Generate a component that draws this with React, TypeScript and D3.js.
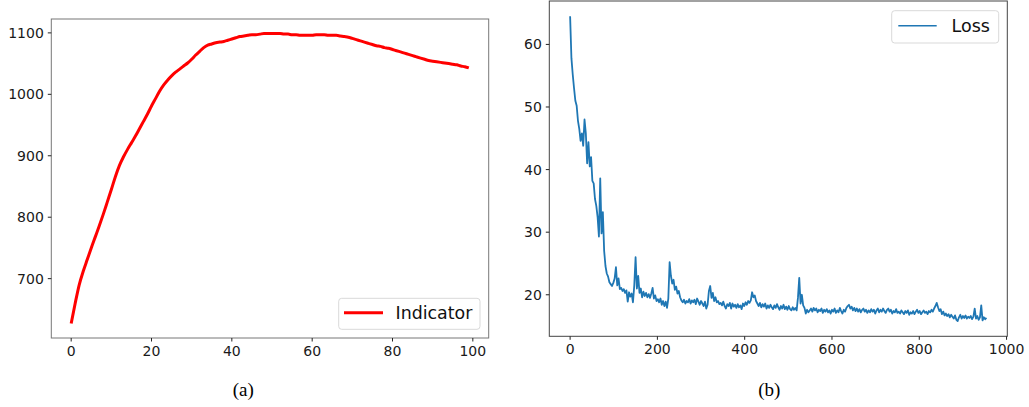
import React from "react";
import * as d3 from "d3";

// ---- Data ----
const indicator: number[] = [
  627, 660, 690, 712, 731, 750, 768, 786, 805, 825,
  845, 866, 884, 898, 910, 921, 932, 944, 956, 968,
  981, 993, 1005, 1015, 1023, 1030, 1036, 1041, 1046, 1051,
  1057, 1064, 1070, 1076, 1080, 1082, 1084, 1085, 1086, 1088,
  1090, 1092, 1094, 1095, 1096, 1097, 1097, 1098, 1099, 1099,
  1099, 1099, 1099, 1098, 1098, 1097, 1097, 1096, 1096, 1096,
  1096, 1097, 1097, 1097, 1096, 1096, 1096, 1095, 1094, 1093,
  1091, 1089, 1087, 1085, 1083, 1081, 1079, 1078, 1076, 1075,
  1073, 1071, 1069, 1067, 1065, 1063, 1061, 1059, 1057, 1055,
  1054, 1053, 1052, 1051, 1050, 1049, 1048, 1046, 1045, 1043,
];

// Loss sampled every 3 steps (step index = i * lossStep)
const lossStep = 3;
const loss: number[] = [
  64.5, 57.8, 55.2, 53.0, 51.0, 50.2, 47.8, 46.5, 44.6, 45.8,
  43.8, 48.0, 45.8, 41.0, 44.4, 40.5, 42.0, 38.2, 37.8, 35.3,
  34.2, 32.4, 29.3, 38.6, 29.8, 33.2, 27.0, 24.6, 23.4, 22.9,
  22.0, 21.7, 21.4, 21.9, 22.6, 24.4, 21.5, 22.6, 20.9,
  21.1, 20.6, 20.9, 20.3, 20.7, 18.9, 20.4, 19.7, 20.2, 18.8,
  21.5, 26.0, 21.0, 23.0, 20.3, 21.0, 19.6, 20.5, 19.8, 20.3,
  19.6, 20.1, 19.5, 20.2, 21.1, 19.4, 19.9, 19.0, 19.3, 18.8,
  19.4, 18.4, 19.0, 18.2, 18.9, 17.9, 19.4,
  25.2, 23.0, 21.8, 22.4, 20.8, 21.3, 20.2, 20.6, 19.6, 19.1,
  18.8, 19.2, 18.6, 19.0, 18.8, 19.3, 18.6, 19.1, 18.8, 19.2,
  18.5, 19.4, 18.9, 18.4, 19.0, 18.6, 18.2, 18.9, 17.8, 18.4,
  20.6, 21.4, 19.5, 20.3, 19.0, 19.6, 18.8, 19.0, 18.5, 18.7,
  18.3, 18.9, 18.2, 17.8, 18.5, 18.2, 18.7, 17.8, 18.6, 18.1,
  18.4, 17.9, 18.5, 18.0, 18.3, 17.7, 18.6, 18.2, 18.8, 18.4,
  19.0, 18.7, 19.1, 20.4, 19.6, 19.9, 19.0, 18.6, 18.2, 18.7,
  18.0, 18.5, 18.1, 18.6, 17.8, 18.3, 17.9, 18.4, 18.0, 17.7,
  18.3, 17.9, 18.5, 18.0, 17.6, 18.2, 17.8, 18.4, 17.7, 18.1,
  17.6, 18.2, 17.7, 17.5, 18.0, 17.6, 17.9, 17.5, 19.5, 22.7,
  18.6, 20.0, 18.3, 17.9, 17.0, 17.6, 17.2, 17.5, 17.8, 17.3,
  17.9, 17.5, 17.8, 17.2, 17.6, 17.4, 17.8, 17.1, 17.6, 17.3,
  17.7, 17.2, 17.5, 17.0, 17.6, 17.3, 17.8, 17.1, 17.5, 17.2,
  17.9, 17.4, 17.0, 17.6, 17.3, 17.9, 18.2, 18.4, 17.8, 18.1,
  17.5, 17.9, 17.4, 17.8, 17.3, 17.7, 17.2, 17.6, 17.8, 17.3,
  17.6, 17.1, 17.5, 17.2, 17.7, 17.3, 17.6, 17.0, 17.5, 17.8,
  17.2, 17.6, 17.3, 17.8, 17.4, 17.1, 17.6, 17.8, 17.3, 17.6,
  17.0, 17.4, 17.2, 17.7, 17.1, 17.3, 17.0, 17.5, 17.2, 16.9,
  17.4, 17.1, 17.5, 16.8, 17.2, 17.0, 17.4, 16.9, 17.3, 17.6,
  17.1, 17.4, 16.9, 17.2, 17.5, 17.1, 17.3, 16.9, 17.4, 17.2,
  17.6, 17.3, 17.8, 18.2, 18.7, 18.0, 17.4, 17.7, 16.9, 17.3,
  16.7, 17.0, 16.6, 16.9, 16.4, 16.8, 16.5, 16.2, 16.7, 16.0,
  15.8, 16.4, 16.8, 16.2, 16.6, 16.3, 16.7, 16.2, 16.5, 16.3,
  16.6, 16.1, 16.5, 17.8, 16.2, 16.6, 16.0, 16.4, 18.3, 15.9,
  16.4, 16.1, 16.3,
];

const leftXTicks = [0, 20, 40, 60, 80, 100];
const leftYTicks = [700, 800, 900, 1000, 1100];
const rightXTicks = [0, 200, 400, 600, 800, 1000];
const rightYTicks = [20, 30, 40, 50, 60];

const TICK_FONT = "DejaVu Sans, sans-serif";

function padDomain(lo: number, hi: number): [number, number] {
  const m = (hi - lo) * 0.05;
  return [lo - m, hi + m];
}

type PanelProps = {
  x0: number; x1: number; y0: number; y1: number;
  xs: d3.ScaleLinear<number, number>;
  ys: d3.ScaleLinear<number, number>;
  xTicks: number[]; yTicks: number[];
  spine: string;
};

function Axes({ x0, x1, y0, y1, xs, ys, xTicks, yTicks, spine }: PanelProps) {
  return (
    <g>
      <rect x={x0} y={y0} width={x1 - x0} height={y1 - y0} fill="none" stroke={spine} strokeWidth={1} />
      {xTicks.map((t) => (
        <g key={"x" + t}>
          <line x1={xs(t)} x2={xs(t)} y1={y1} y2={y1 + 3.5} stroke="#222" strokeWidth={1} />
          <text x={xs(t)} y={y1 + 17.5} textAnchor="middle" fontFamily={TICK_FONT} fontSize={14} fill="#1a1a1a">
            {t}
          </text>
        </g>
      ))}
      {yTicks.map((t) => (
        <g key={"y" + t}>
          <line x1={x0 - 3.5} x2={x0} y1={ys(t)} y2={ys(t)} stroke="#222" strokeWidth={1} />
          <text x={x0 - 7.5} y={ys(t) + 5} textAnchor="end" fontFamily={TICK_FONT} fontSize={14} fill="#1a1a1a">
            {t}
          </text>
        </g>
      ))}
    </g>
  );
}

export default function App() {
  // Left panel
  const L = { x0: 51.3, x1: 488.7, y0: 19, y1: 338 };
  const lxs = d3.scaleLinear().domain(padDomain(0, indicator.length - 1)).range([L.x0, L.x1]);
  const lys = d3
    .scaleLinear()
    .domain(padDomain(d3.min(indicator)!, d3.max(indicator)!))
    .range([L.y1, L.y0]);
  const lLine = d3
    .line<number>()
    .x((_, i) => lxs(i))
    .y((d) => lys(d))
    .curve(d3.curveMonotoneX);

  // Right panel
  const R = { x0: 549.3, x1: 1007.3, y0: 1, y1: 336.3 };
  const lastStep = (loss.length - 1) * lossStep;
  const rxs = d3.scaleLinear().domain(padDomain(0, lastStep)).range([R.x0, R.x1]);
  const rys = d3
    .scaleLinear()
    .domain(padDomain(d3.min(loss)!, d3.max(loss)!))
    .range([R.y1, R.y0]);
  const rLine = d3
    .line<number>()
    .x((_, i) => rxs(i * lossStep))
    .y((d) => rys(d));

  return (
    <svg width={1029} height={407} style={{ position: "absolute", left: 0, top: 0, background: "#fff" }}>
      <rect x={0} y={0} width={1029} height={407} fill="#fff" />
      {/* Left chart */}
      <Axes {...L} xs={lxs} ys={lys} xTicks={leftXTicks} yTicks={leftYTicks} spine="#777" />
      <path d={lLine(indicator) || ""} fill="none" stroke="#ff0000" strokeWidth={3} strokeLinejoin="round" />
      <g>
        <rect x={338.7} y={298.3} width={141.3} height={31} rx={3} fill="#fff" fillOpacity={0.8} stroke="#d9d9d9" strokeWidth={1} />
        <line x1={344} x2={383} y1={312.7} y2={312.7} stroke="#ff0000" strokeWidth={3} />
        <text x={395.5} y={318.8} fontFamily={TICK_FONT} fontSize={17.4} fill="#111">Indicator</text>
      </g>
      <text x={243.3} y={396} textAnchor="middle" fontFamily="Liberation Serif, Times New Roman, serif" fontSize={19} fill="#000">(a)</text>

      {/* Right chart */}
      <Axes {...R} xs={rxs} ys={rys} xTicks={rightXTicks} yTicks={rightYTicks} spine="#444" />
      <path d={rLine(loss) || ""} fill="none" stroke="#1f77b4" strokeWidth={1.8} strokeLinejoin="round" />
      <g>
        <rect x={891.7} y={10.7} width={107} height={32.3} rx={3} fill="#fff" fillOpacity={0.8} stroke="#d9d9d9" strokeWidth={1} />
        <line x1={898.3} x2={936.7} y1={25.7} y2={25.7} stroke="#1f77b4" strokeWidth={1.5} />
        <text x={951.5} y={31.9} fontFamily={TICK_FONT} fontSize={17.5} fill="#111">Loss</text>
      </g>
      <text x={769.3} y={396} textAnchor="middle" fontFamily="Liberation Serif, Times New Roman, serif" fontSize={19} fill="#000">(b)</text>
    </svg>
  );
}
